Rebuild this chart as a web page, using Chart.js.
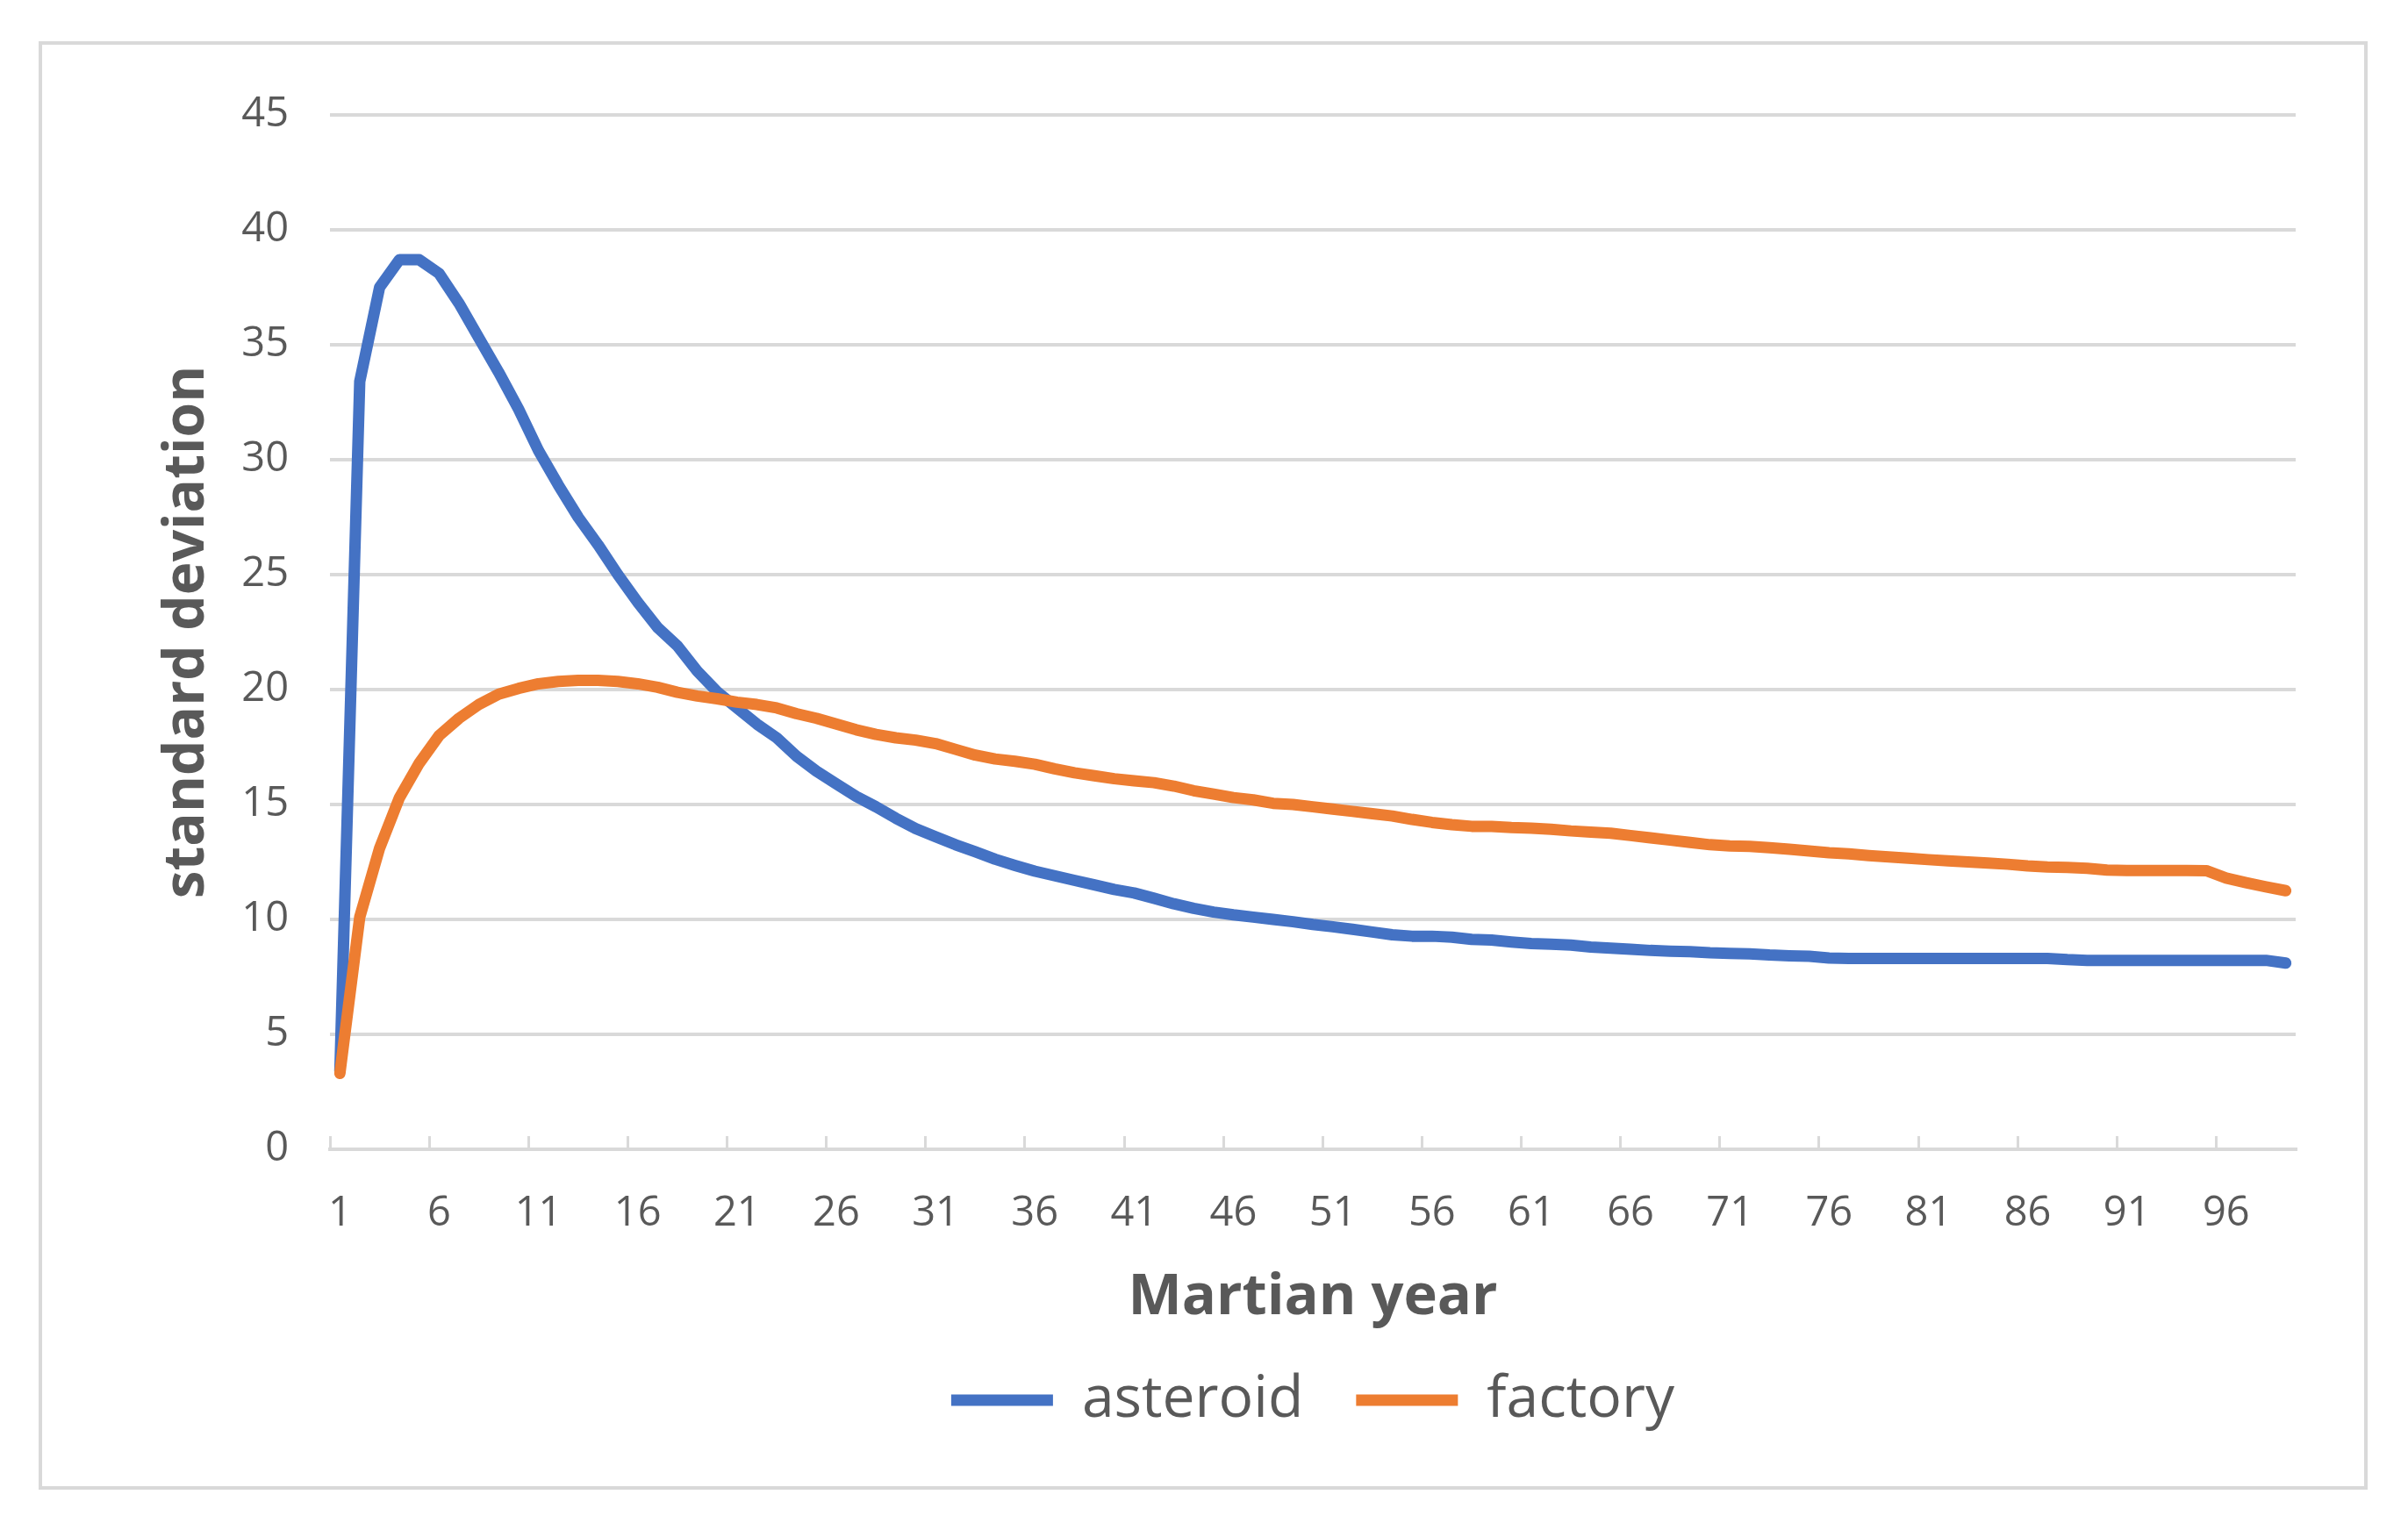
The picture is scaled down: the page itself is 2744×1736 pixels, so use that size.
<!DOCTYPE html>
<html>
<head>
<meta charset="utf-8">
<script src="https://cdn.jsdelivr.net/npm/chart.js"></script>
<style>
html,body{margin:0;padding:0;background:#fff;}
#wrap{position:relative;width:2744px;height:1736px;}
canvas{position:absolute;left:0;top:0;}
#frame{position:absolute;left:44px;top:47px;width:2654px;height:1651px;box-sizing:border-box;border:4px solid #d9d9d9;pointer-events:none;}
</style>
</head>
<body>
<div id="wrap"><canvas id="c" width="2744" height="1736"></canvas><div id="frame"></div></div>
<script>
const years = ['1','2','3','4','5','6','7','8','9','10','11','12','13','14','15','16','17','18','19','20',
  '21','22','23','24','25','26','27','28','29','30','31','32','33','34','35','36','37','38','39','40',
  '41','42','43','44','45','46','47','48','49','50','51','52','53','54','55','56','57','58','59','60',
  '61','62','63','64','65','66','67','68','69','70','71','72','73','74','75','76','77','78','79','80',
  '81','82','83','84','85','86','87','88','89','90','91','92','93','94','95','96','97','98','99'];

const xTickLabels = ['1','6','11','16','21','26','31','36','41','46','51','56','61','66','71','76','81','86','91','96'];

const asteroid = [3.4,33.4,37.5,38.7,38.7,38.1,36.8,35.3,33.8,32.2,
  30.4,28.9,27.5,26.3,25.0,23.8,22.7,21.9,20.8,19.9,
  19.2,18.5,17.9,17.1,16.45,15.9,15.35,14.9,14.4,13.95,
  13.6,13.25,12.94,12.62,12.35,12.1,11.9,11.7,11.5,11.3,
  11.15,10.92,10.68,10.48,10.32,10.2,10.1,10.0,9.9,9.78,
  9.68,9.57,9.45,9.33,9.27,9.27,9.23,9.13,9.1,9.02,
  8.95,8.92,8.88,8.8,8.75,8.7,8.65,8.62,8.6,8.55,
  8.52,8.5,8.45,8.42,8.4,8.32,8.3,8.3,8.3,8.3,
  8.3,8.3,8.3,8.3,8.3,8.3,8.3,8.25,8.22,8.22,
  8.22,8.22,8.22,8.22,8.22,8.22,8.22,8.22,8.1];

const factory = [3.3,10.1,13.1,15.3,16.8,18.0,18.75,19.35,19.8,20.05,
  20.25,20.35,20.4,20.4,20.35,20.25,20.1,19.88,19.72,19.6,
  19.45,19.35,19.2,18.95,18.75,18.5,18.25,18.05,17.9,17.8,
  17.65,17.4,17.15,16.98,16.88,16.75,16.55,16.38,16.25,16.12,
  16.03,15.95,15.8,15.6,15.45,15.3,15.2,15.05,15.0,14.9,
  14.8,14.7,14.6,14.5,14.35,14.22,14.12,14.05,14.05,14.0,
  13.97,13.92,13.85,13.8,13.75,13.65,13.55,13.45,13.35,13.25,
  13.2,13.18,13.12,13.05,12.98,12.9,12.85,12.78,12.72,12.66,
  12.6,12.55,12.5,12.45,12.4,12.33,12.28,12.26,12.22,12.15,
  12.13,12.13,12.13,12.13,12.12,11.8,11.6,11.42,11.25];

const yTicksMin = 0, yTicksMax = 45, yStep = 5;

const GRID = '#d9d9d9';
const TEXT = '#595959';
Chart.defaults.font.family = "'Open Sans', 'DejaVu Sans', sans-serif";

new Chart(document.getElementById('c'), {
  type: 'line',
  data: {
    labels: years,
    datasets: [
      {label: 'asteroid', data: asteroid, borderColor: '#4472C4', backgroundColor: '#4472C4',
       borderWidth: 13, pointRadius: 0, tension: 0, fill: false,
       borderJoinStyle: 'round', borderCapStyle: 'round', order: 1},
      {label: 'factory', data: factory, borderColor: '#ED7D31', backgroundColor: '#ED7D31',
       borderWidth: 13, pointRadius: 0, tension: 0, fill: false,
       borderJoinStyle: 'round', borderCapStyle: 'round', order: 0}
    ]
  },
  options: {
    responsive: false,
    animation: false,
    devicePixelRatio: 1,
    layout: {padding: {left: 0, right: 128, top: 131, bottom: 97}},
    plugins: {
      tooltip: {enabled: false},
      legend: {
        position: 'bottom',
        fullSize: false,
        labels: {
          usePointStyle: true, pointStyle: 'line', pointStyleWidth: 116,
          padding: 60, color: TEXT, font: {size: 66},
          sort: (a, b) => a.datasetIndex - b.datasetIndex
        }
      }
    },
    scales: {
      x: {
        offset: true,
        grid: {
          offset: true, drawOnChartArea: false, drawTicks: true, tickLength: -15,
          lineWidth: 3, tickWidth: 3,
          tickColor: c => (c.index !== undefined && c.index % 5 === 0) ? GRID : 'rgba(0,0,0,0)'
        },
        border: {display: true, color: GRID, width: 4},
        ticks: {
          autoSkip: false, maxRotation: 0, minRotation: 0, padding: 60,
          color: TEXT, font: {size: 47},
          callback: function (v) {
            const l = this.getLabelForValue(v);
            return xTickLabels.includes(l) ? l : '';
          }
        },
        title: {display: true, text: 'Martian year', color: TEXT,
                font: {size: 65, weight: 'bold'}, padding: {top: 0, bottom: -15}},
        afterFit: s => { s.height = 193; }
      },
      y: {
        min: yTicksMin, max: yTicksMax,
        ticks: {stepSize: yStep, padding: 47, color: TEXT, font: {size: 47}},
        grid: {color: GRID, lineWidth: 4, drawTicks: false},
        border: {display: false},
        title: {display: true, text: 'standard deviation', color: TEXT,
                font: {size: 64, weight: 'bold'}, padding: {top: 175, bottom: 0}},
        afterFit: s => { s.width = 376; }
      }
    }
  }
});
</script>
</body>
</html>
